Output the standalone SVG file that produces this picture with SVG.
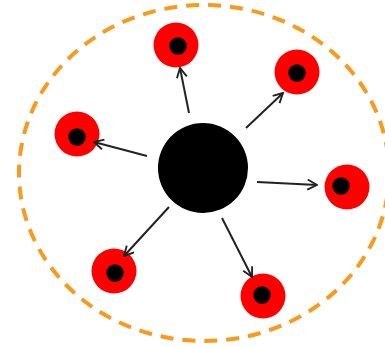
<svg xmlns="http://www.w3.org/2000/svg" width="385" height="347" viewBox="0 0 385 347">
<style>
.outer{fill:none;stroke:#F99A1C;stroke-width:4;stroke-dasharray:13 9}
.cell{fill:#FF0000}
.nuc{fill:#000}
.edge{stroke:#222;stroke-width:2;fill:none;marker-end:url(#arr)}
</style>
<defs>
<marker id="arr" viewBox="0 0 12 12" refX="11" refY="6" markerWidth="12" markerHeight="12" markerUnits="userSpaceOnUse" orient="auto">
<path d="M1.5,1 L11,6 L1.5,11" fill="none" stroke="#222" stroke-width="1.9"/>
</marker>
</defs>
<rect width="385" height="347" fill="#fff"/>
<ellipse class="outer" cx="204" cy="173" rx="185" ry="168"/>
<g id="center"><circle class="nuc" cx="203" cy="168" r="45"/></g>
<g id="n1"><circle class="cell" cx="176" cy="45" r="22.5"/><circle class="nuc" cx="178" cy="46" r="8.7"/></g>
<g id="n2"><circle class="cell" cx="297" cy="72" r="22.5"/><circle class="nuc" cx="297" cy="73" r="8.7"/></g>
<g id="n3"><circle class="cell" cx="77" cy="134" r="22.5"/><circle class="nuc" cx="77" cy="137" r="8.7"/></g>
<g id="n4"><circle class="cell" cx="347" cy="187" r="22.5"/><circle class="nuc" cx="341" cy="186" r="8.7"/></g>
<g id="n5"><circle class="cell" cx="114" cy="271" r="22.5"/><circle class="nuc" cx="115" cy="273" r="8.7"/></g>
<g id="n6"><circle class="cell" cx="263" cy="296" r="22.5"/><circle class="nuc" cx="262" cy="295" r="8.7"/></g>
<g id="connectors">
<line class="edge" x1="189" y1="113" x2="180" y2="68"/>
<line class="edge" x1="246" y1="128" x2="283" y2="93"/>
<line class="edge" x1="147" y1="156" x2="94" y2="142"/>
<line class="edge" x1="257" y1="182" x2="317" y2="185"/>
<line class="edge" x1="169" y1="207" x2="124" y2="256"/>
<line class="edge" x1="222" y1="218" x2="252" y2="277"/>
</g>
</svg>
